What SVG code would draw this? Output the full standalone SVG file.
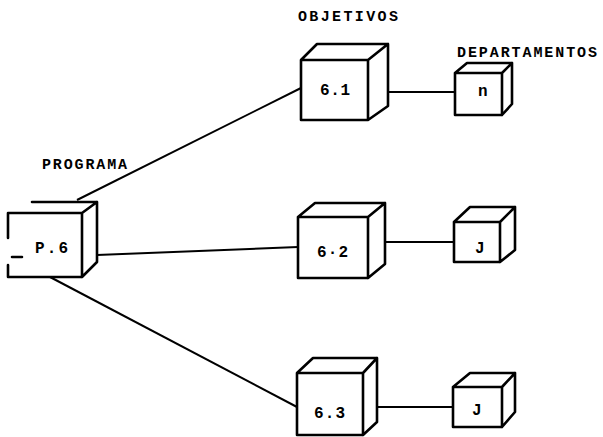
<svg xmlns="http://www.w3.org/2000/svg" width="603" height="437" viewBox="0 0 603 437">
<style>
.box{fill:none;stroke:#000;stroke-width:2.6;stroke-linejoin:round;stroke-linecap:round}
.con{fill:none;stroke:#000;stroke-width:2}
.lbl{font-family:"Liberation Mono",monospace;font-weight:bold;font-size:15px;fill:#000}
.num{font-family:"Liberation Mono",monospace;font-weight:bold;font-size:16px;fill:#000}
</style>
<rect width="603" height="437" fill="#fff"/>
<text class="lbl" x="298" y="21" textLength="100" lengthAdjust="spacing">OBJETIVOS</text>
<text class="lbl" x="457" y="57" textLength="140" lengthAdjust="spacing">DEPARTAMENTOS</text>
<text class="lbl" x="42" y="169" textLength="85" lengthAdjust="spacing">PROGRAMA</text>
<g id="connectors">
<line class="con" x1="77" y1="200" x2="301" y2="88"/>
<line class="con" x1="97" y1="255" x2="298" y2="247"/>
<line class="con" x1="50" y1="277" x2="297" y2="407"/>
<line class="con" x1="388" y1="92" x2="455" y2="92"/>
<line class="con" x1="385" y1="242" x2="454" y2="242"/>
<line class="con" x1="377" y1="407" x2="453" y2="407"/>
</g>
<g id="node-p6">
<path class="box" d="M8,238 V213 H82 V277 H8 V265 M32,202 H97 V262 L82,277 M82,213 L97,202 M12,257 H22"/>
<text class="num" x="35" y="253" textLength="33" lengthAdjust="spacing">P.6</text>
</g>
<g id="node-61">
<path class="box" d="M301,60 H368 V120 H301 Z M301,60 L317,44 H388 V106 L368,120 M368,60 L388,44"/>
<text class="num" x="320" y="95" textLength="30" lengthAdjust="spacing">6.1</text>
</g>
<g id="node-62">
<path class="box" d="M298,217 H368 V278 H298 Z M298,217 L315,203 H385 V264 L368,278 M368,217 L385,203"/>
<text class="num" x="317" y="257" textLength="31" lengthAdjust="spacing">6·2</text>
</g>
<g id="node-63">
<path class="box" d="M297,373 H363 V435 H297 Z M297,373 L313,358 H377 V422 L363,435 M363,373 L377,358"/>
<text class="num" x="314" y="418" textLength="31" lengthAdjust="spacing">6.3</text>
</g>
<g id="node-dn">
<path class="box" d="M455,73 H502 V115 H455 Z M455,73 L467,63 H512 V104 L502,115 M502,73 L512,63"/>
<text class="num" x="478" y="96">n</text>
</g>
<g id="node-dj2">
<path class="box" d="M454,222 H500 V262 H454 Z M454,222 L470,207 H515 V250 L500,262 M500,222 L515,207"/>
<text class="num" x="475" y="253">J</text>
</g>
<g id="node-dj3">
<path class="box" d="M453,387 H502 V427 H453 Z M453,387 L470,373 H515 V412 L502,427 M502,387 L515,373"/>
<text class="num" x="472" y="415">J</text>
</g>
</svg>
